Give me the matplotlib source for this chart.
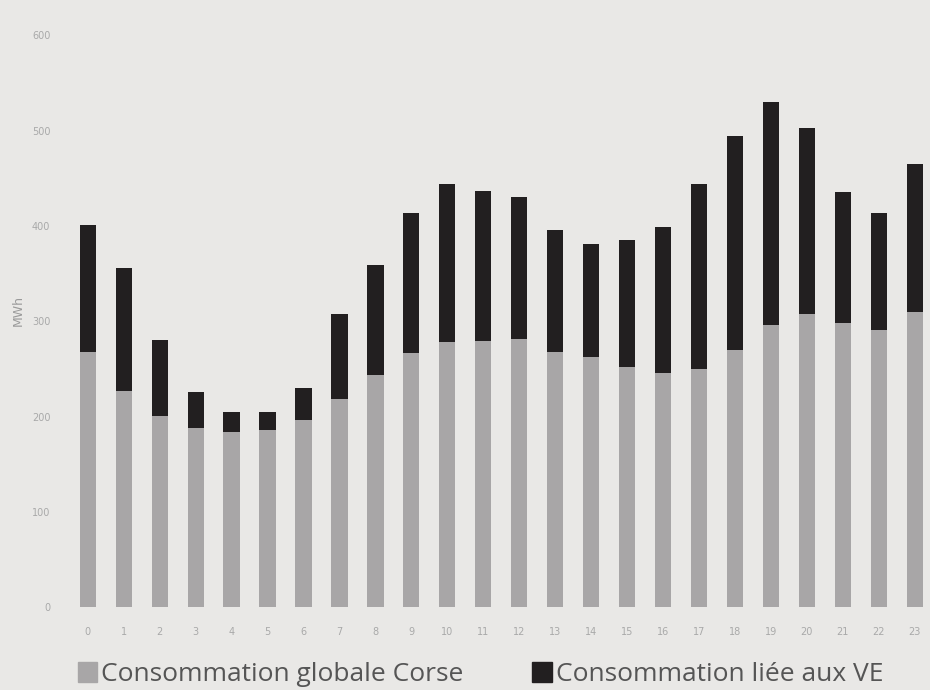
import matplotlib.pyplot as plt
from matplotlib.patches import Patch

heures = [str(h) for h in range(24)]
conso_globale = [268, 227, 201, 188, 184, 186, 196, 218, 244, 267, 278, 279,
                 281, 268, 262, 252, 246, 250, 270, 296, 308, 298, 291, 310]
conso_totale = [401, 356, 280, 226, 205, 205, 230, 308, 359, 413, 444, 437,
                430, 396, 381, 385, 399, 444, 494, 530, 503, 436, 414, 465]
conso_ve = [t - g for t, g in zip(conso_totale, conso_globale)]

bg = '#e9e8e6'
gris = '#a8a6a7'
noir = '#221f20'

fig = plt.figure(figsize=(9.3, 6.9), dpi=100, facecolor=bg)
ax = fig.add_axes([0.075, 0.12, 0.928, 0.829], facecolor=bg)

x = range(len(heures))
ax.bar(x, conso_globale, width=0.45, color=gris)
ax.bar(x, conso_ve, width=0.45, bottom=conso_globale, color=noir)

ax.set_xlim(-0.5, 23.5)
ax.set_ylim(0, 600)
ax.set_yticks(range(0, 601, 100))
ax.set_xticks(list(x))
ax.set_xticklabels(heures)
ax.tick_params(length=0, labelsize=7, colors='#a9a9a9')
ax.tick_params(axis='x', pad=14)
ax.tick_params(axis='y', pad=14)
for s in ax.spines.values():
    s.set_visible(False)

fig.text(0.02, 0.55, 'MWh', rotation=90, fontsize=9, color='#9a9a9a',
         ha='center', va='center')

handles = [Patch(color=gris, label='Consommation globale Corse'),
           Patch(color=noir, label='Consommation liée aux VE')]
fig.legend(handles=handles, loc='lower left', bbox_to_anchor=(0.058, -0.03),
           ncol=2, frameon=False, handlelength=0.75, handleheight=0.8,
           handletextpad=0.15, columnspacing=2.6,
           prop={'family': 'Open Sans', 'size': 19}, labelcolor='#555555')

fig.savefig('out.png', dpi=100, facecolor=bg)
